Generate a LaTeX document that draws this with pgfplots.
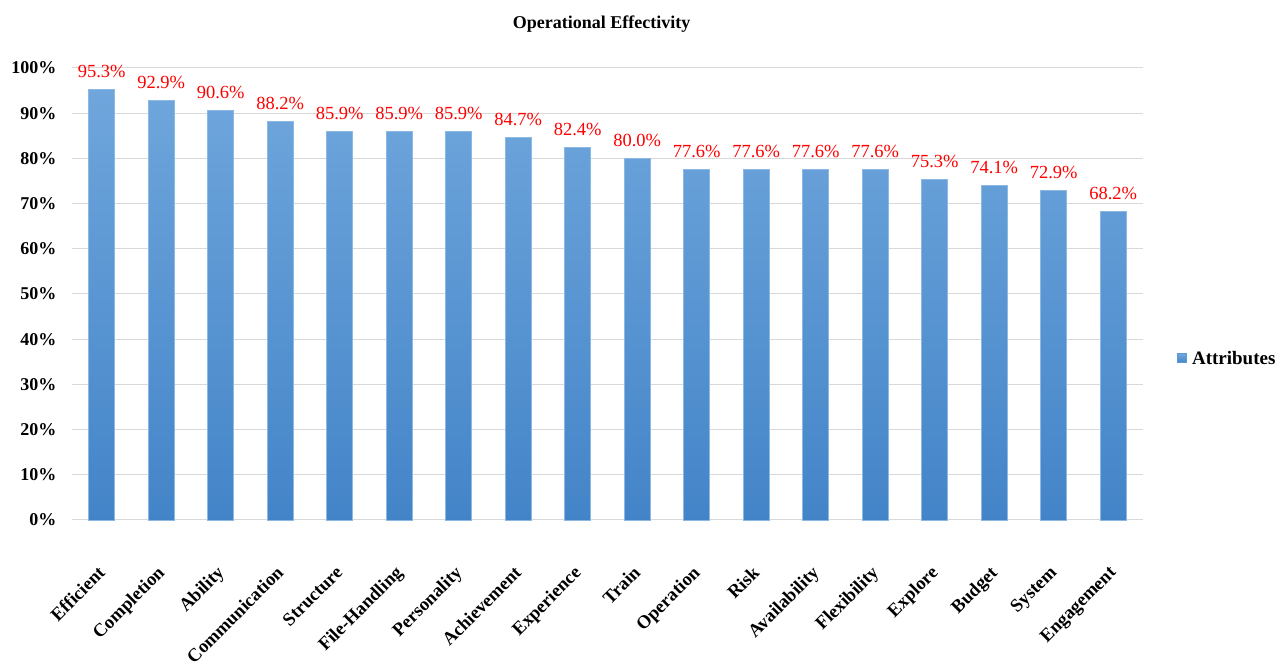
\documentclass[border=0pt]{standalone}
\usepackage{pgfplots}
\pgfplotsset{compat=1.18}
\usepackage{fontspec}
\setmainfont{Liberation Serif}
\definecolor{bartop}{HTML}{6FA6DC}
\definecolor{barbot}{HTML}{4384C8}
\definecolor{gridc}{HTML}{D9D9D9}
\definecolor{legc}{HTML}{5B9BD5}
\definecolor{baredge}{HTML}{8CB8E4}
\begin{document}
\begin{tikzpicture}[x=1pt,y=1pt]
\useasboundingbox (0,0) rectangle (1281,663);
\node[font=\fontsize{18}{20}\selectfont\bfseries] at (601.5,639) {Operational Effectivity};
\begin{axis}[
  at={(72pt,143pt)}, anchor=south west,
  scale only axis, width=1071pt, height=452pt,
  xmin=-0.5, xmax=17.5, ymin=0, ymax=100,
  ytick={0,10,...,100},
  yticklabel={\pgfmathprintnumber{\tick}\%},
  /pgf/number format/assume math mode=true,
  yticklabel style={font=\fontsize{18}{20}\selectfont\bfseries, xshift=-12pt},
  xtick=data,
  xticklabels={Efficient,Completion,Ability,Communication,Structure,File-Handling,Personality,Achievement,Experience,Train,Operation,Risk,Availability,Flexibility,Explore,Budget,System,Engagement},
  xticklabel style={font=\fontsize{18.5}{20}\selectfont\bfseries, xshift=-5pt, yshift=-40pt, rotate=45, anchor=north east},
  major tick length=0pt,
  ymajorgrids, grid style={gridc, line width=1pt},
  axis x line*=bottom, axis y line*=left,
  x axis line style={draw=gridc, line width=1pt, -},
  y axis line style={draw=none},
  ybar, bar width=26pt,
  nodes near coords={\pgfmathprintnumber[fixed,fixed zerofill,precision=1]{\pgfplotspointmeta}\%},
  nodes near coords style={font=\fontsize{18.5}{20}\selectfont, text=red, anchor=south, yshift=8pt},
  legend style={at={(1.032,0.358)}, anchor=west, draw=none, font=\fontsize{19}{21}\selectfont\bfseries, inner sep=0pt},
  legend image code/.code={\fill[legc] (0pt,-4.5pt) rectangle (9pt,4.5pt);},
  legend cell align=left,
  clip=false,
]
\addplot[draw=baredge, line width=0.6pt, top color=bartop, bottom color=barbot] coordinates {
(0,95.3) (1,92.9) (2,90.6) (3,88.2) (4,85.9) (5,85.9) (6,85.9) (7,84.7) (8,82.4)
(9,80.0) (10,77.6) (11,77.6) (12,77.6) (13,77.6) (14,75.3) (15,74.1) (16,72.9) (17,68.2)};
\addlegendentry{\hspace{3pt}Attributes}
\end{axis}
\end{tikzpicture}
\end{document}
